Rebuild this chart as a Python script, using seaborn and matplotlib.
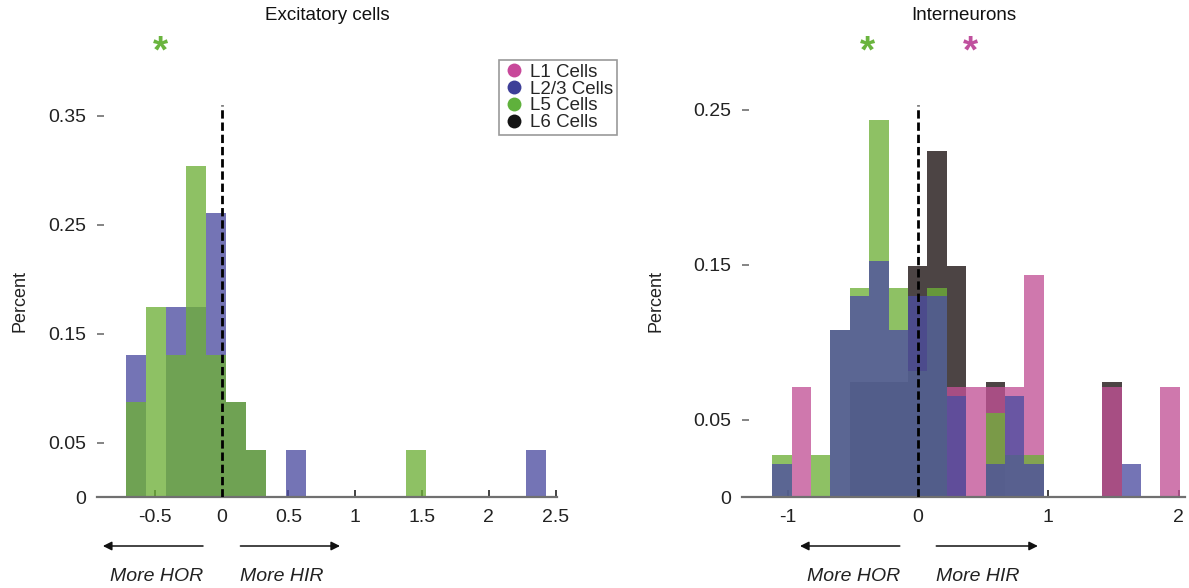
import numpy as np
import matplotlib
matplotlib.use("Agg")
import matplotlib.pyplot as plt
from matplotlib.lines import Line2D
import seaborn as sns

# ---- data -------------------------------------------------------------
# Excitatory cells: histogram bin edges, bin centres and fractions
exc_edges = [-0.72, -0.57, -0.42, -0.27, -0.12, 0.03, 0.18, 0.33, 0.48, 0.63,
             0.78, 0.93, 1.08, 1.23, 1.38, 1.53, 1.68, 1.83, 1.98, 2.13,
             2.28, 2.43]
exc_l23_x = [-0.645, -0.345, -0.195, -0.045, 0.105, 0.255, 0.555, 2.355]
exc_l23_pct = [0.130, 0.174, 0.174, 0.261, 0.087, 0.043, 0.043, 0.043]
exc_l5_x = [-0.645, -0.495, -0.345, -0.195, -0.045, 0.105, 0.255, 1.455]
exc_l5_pct = [0.087, 0.174, 0.130, 0.304, 0.130, 0.087, 0.043, 0.043]

# Interneurons
int_edges = [-1.12, -0.971, -0.822, -0.673, -0.524, -0.375, -0.226, -0.077,
             0.072, 0.221, 0.37, 0.519, 0.668, 0.817, 0.966, 1.115, 1.264,
             1.413, 1.562, 1.711, 1.86, 2.009]
int_l1_x = [-0.8965, 0.2955, 0.4445, 0.5935, 0.7425, 0.8915, 1.4875, 1.9345]
int_l1_pct = [0.071, 0.071, 0.071, 0.071, 0.071, 0.143, 0.071, 0.071]
int_l23_x = [-1.0455, -0.5985, -0.4495, -0.3005, -0.1515, -0.0025, 0.1465,
             0.2955, 0.5935, 0.7425, 0.8915, 1.6365]
int_l23_pct = [0.0213, 0.108, 0.130, 0.152, 0.108, 0.130, 0.130,
               0.065, 0.0213, 0.065, 0.0213, 0.0213]
int_l5_x = [-1.0455, -0.7475, -0.5985, -0.4495, -0.3005, -0.1515, -0.0025,
            0.1465, 0.5935, 0.7425, 0.8915]
int_l5_pct = [0.027, 0.027, 0.108, 0.135, 0.243, 0.135, 0.081,
              0.135, 0.054, 0.027, 0.027]
int_l6_x = [-0.4495, -0.3005, -0.1515, -0.0025, 0.1465, 0.2955, 0.5935, 1.4875]
int_l6_pct = [0.074, 0.074, 0.074, 0.149, 0.223, 0.149, 0.074, 0.074]

layer_labels = ["L1 Cells", "L2/3 Cells", "L5 Cells", "L6 Cells"]
exc_yticks = [0, 0.05, 0.15, 0.25, 0.35]
int_yticks = [0, 0.05, 0.15, 0.25]
exc_xticks = [-0.5, 0, 0.5, 1, 1.5, 2, 2.5]
exc_xticklabels = ["-0.5", "0", "0.5", "1", "1.5", "2", "2.5"]
int_xticks = [-1, 0, 1, 2]
int_xticklabels = ["-1", "0", "1", "2"]

# ---- style ------------------------------------------------------------
sns.set_theme(style="white")
plt.rcParams["font.family"] = ["Liberation Sans", "DejaVu Sans"]

bar_colors = {
    "L1": (0.76, 0.32, 0.59),
    "L23": (0.30, 0.30, 0.63),
    "L5": (0.43, 0.69, 0.22),
    "L6": (0.10, 0.06, 0.06),
}
legend_colors = ["#c8489a", "#3d3f98", "#5fb13c", "#141414"]
ALPHA = 0.78
axis_gray = "#707070"
text_col = "#222222"

W, H = 1189, 588
fig = plt.figure(figsize=(W / 100, H / 100), dpi=100)
fig.patch.set_facecolor("white")

ax1 = fig.add_axes([97 / W, (H - 497) / H, 460 / W, 392 / H])
ax2 = fig.add_axes([742 / W, (H - 497) / H, 443 / W, 392 / H])


def hist(ax, x, w, edges, color):
    sns.histplot(x=x, weights=w, bins=edges, color=color, alpha=ALPHA,
                 edgecolor="none", linewidth=0, ax=ax, stat="count",
                 element="bars", fill=True)


# left panel: L2/3 below, L5 on top
hist(ax1, exc_l23_x, exc_l23_pct, exc_edges, bar_colors["L23"])
hist(ax1, exc_l5_x, exc_l5_pct, exc_edges, bar_colors["L5"])

# right panel: L6, L1, L5, then L2/3 on top
hist(ax2, int_l6_x, int_l6_pct, int_edges, bar_colors["L6"])
hist(ax2, int_l1_x, int_l1_pct, int_edges, bar_colors["L1"])
hist(ax2, int_l5_x, int_l5_pct, int_edges, bar_colors["L5"])
hist(ax2, int_l23_x, int_l23_pct, int_edges, bar_colors["L23"])

panels = [
    (ax1, (-0.934, 2.511), 392 / 1090, exc_xticks, exc_xticklabels, exc_yticks,
     "Excitatory cells", -0.148, (-0.89, 0.886)),
    (ax2, (-1.351, 2.049), 392 / 1550, int_xticks, int_xticklabels, int_yticks,
     "Interneurons", -0.174, (-0.906, 0.92)),
]

for ax, xl, ytop, xt, xtl, yt, title, ylab_x, arrow_ends in panels:
    ax.set_xlim(*xl)
    ax.set_ylim(0, ytop)
    ax.set_facecolor("white")
    for s in ["top", "right", "left"]:
        ax.spines[s].set_visible(False)
    ax.spines["bottom"].set_color(axis_gray)
    ax.spines["bottom"].set_linewidth(1.6)
    ax.set_xticks(xt)
    ax.set_xticklabels(xtl)
    ax.set_yticks(yt)
    ax.set_yticklabels([("%g" % v) for v in yt])
    ax.tick_params(axis="both", direction="in", length=5, width=1.2,
                   colors="#222222", labelsize=14, left=True, bottom=True)
    ax.tick_params(axis="y", colors=axis_gray, labelcolor=text_col, pad=8)
    ax.tick_params(axis="x", pad=9)
    ax.set_xlabel("")
    ax.set_ylabel("Percent", fontsize=13, color=text_col)
    ax.yaxis.set_label_coords(ylab_x, 0.5)
    ax.axvline(0, color="black", lw=2, ls=(0, (3.0, 1.4)), zorder=6)
    ax.text(0.5, (497 - 15) / 392, title, transform=ax.transAxes,
            ha="center", va="center", fontsize=13.5, color="#111111")

    tr = ax.get_xaxis_transform()
    for x_start, x_end in [(-0.14, arrow_ends[0]), (0.14, arrow_ends[1])]:
        ax.annotate("", xy=(x_end, -0.125), xytext=(x_start, -0.125),
                    xycoords=tr, textcoords=tr,
                    arrowprops=dict(arrowstyle="-|>", color="#111111", lw=1.1,
                                    mutation_scale=13, shrinkA=0, shrinkB=0),
                    annotation_clip=False)
    ax.text(-0.14, -0.203, "More HOR", transform=tr, ha="right", va="center",
            fontsize=14, style="italic", color=text_col, clip_on=False)
    ax.text(0.14, -0.203, "More HIR", transform=tr, ha="left", va="center",
            fontsize=14, style="italic", color=text_col, clip_on=False)

# significance markers
star_y = (497 - 52) / 392
for ax, xs, col in [(ax1, -0.46, "#6ab43e"), (ax2, -0.39, "#6ab43e"),
                    (ax2, 0.40, "#c0509e")]:
    ax.text(xs, star_y, "*", transform=ax.get_xaxis_transform(), ha="center",
            va="center", fontsize=28, fontweight="bold", color=col,
            clip_on=False)

handles = [Line2D([], [], ls="none", marker="o", markersize=10,
                  markerfacecolor=c, markeredgecolor="none")
           for c in legend_colors]
leg = fig.legend(handles, layer_labels, loc="upper left",
                 bbox_to_anchor=(499 / W, 1 - 60 / H), fontsize=13.5,
                 frameon=True, fancybox=False, borderpad=0.2,
                 labelspacing=-0.02, handletextpad=0.25, handlelength=1.2,
                 borderaxespad=0)
leg.get_frame().set_edgecolor("#808080")
leg.get_frame().set_linewidth(1.2)

fig.savefig("out.png", dpi=100, facecolor="white")
